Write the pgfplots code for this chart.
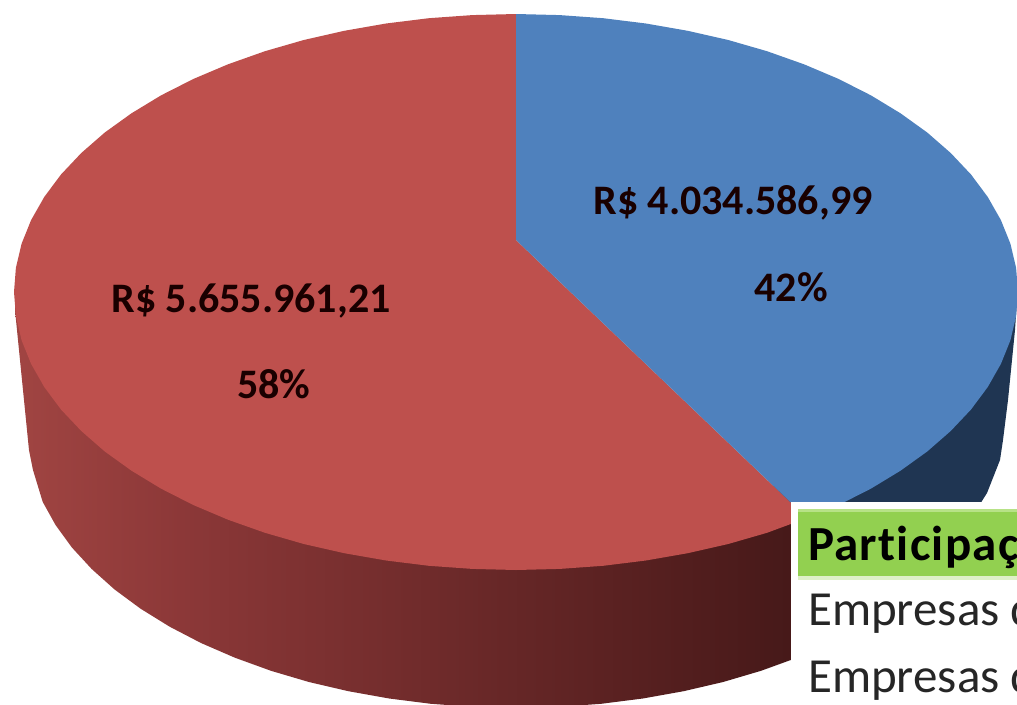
\documentclass[border=0pt]{standalone}
\usepackage{pgfplots}
\pgfplotsset{compat=1.18}
\usepackage{fontspec}
\setmainfont{Carlito}
\newfontfamily\headfont[LetterSpace=2.5,Ligatures=NoCommon]{Carlito}
\definecolor{topred}{RGB}{190,80,77}
\definecolor{topblue}{RGB}{79,129,189}
\definecolor{sideblue}{RGB}{31,53,82}
\definecolor{tgreen}{RGB}{146,208,80}
\definecolor{tgreenA}{RGB}{183,226,135}
\definecolor{tgreenB}{RGB}{222,240,200}
\pgfdeclarehorizontalshading{sideshade}{100bp}{
 rgb(0bp)=(0.63,0.27,0.26);
 rgb(25bp)=(0.63,0.27,0.26);
 rgb(35bp)=(0.55,0.22,0.22);
 rgb(50bp)=(0.44,0.17,0.17);
 rgb(65bp)=(0.33,0.12,0.12);
 rgb(72bp)=(0.28,0.10,0.10);
 rgb(100bp)=(0.28,0.10,0.10)}
\begin{document}
\begin{tikzpicture}
\useasboundingbox (0,0) rectangle (1017pt,704pt);
\begin{axis}[
  at={(0,0)}, anchor=south west,
  scale only axis, width=1017pt, height=704pt,
  xmin=0, xmax=1017, ymin=0, ymax=704, y dir=reverse,
  hide axis, clip=true]
% side of the blue slice
\addplot[fill=sideblue, draw=none] coordinates {
 (1017,300)(1015,330)(1012,360)(1008,400)(1003,440)(1000,460)(987,493)(970,520)
 (900,600)(800,660)(800,500)} -- cycle;
% side of the red slice
\addplot[shading=sideshade, draw=none] coordinates {
 (15,300)(15,310)(20,360)(25,410)(29,450)(33,470)(42.7,501.9)(55.6,525.1)(71.9,547.5)(91.7,569)
 (114.6,589.5)(140.6,608.7)(169.5,626.6)(201,643)(234.9,657.7)(271,670.8)(308.9,682)
 (348.4,691.2)(389.2,698.5)(430.9,703.8)(473.3,706.9)(516,708)(558.7,706.9)(601.1,703.8)
 (642.8,698.5)(683.6,691.2)(723.1,682)(761,670.8)(797.1,657.7)(831,643)(831,500)} -- cycle;
% top of the red slice (58 %)
\addplot[fill=topred, draw=none] coordinates {
 (516,240)(807,518)(767,532.8)(728.2,544)(687.7,553.2)(645.9,560.5)(603.1,565.8)(559.8,568.9)
 (516,570)(472.2,568.9)(428.9,565.8)(386.1,560.5)(344.3,553.2)(303.8,544)(265,532.8)(228,519.7)
 (193.3,505)(161,488.6)(131.5,470.7)(104.8,451.5)(81.3,431)(61,409.5)(44.3,387.1)(31.1,363.9)
 (21.6,340.3)(15.9,316.2)(14,292)(15.9,267.8)(21.6,243.7)(31.1,220.1)(44.3,196.9)(61,174.5)
 (81.3,153)(104.8,132.5)(131.5,113.3)(161,95.4)(193.3,79)(228,64.3)(265,51.2)(303.8,40)
 (344.3,30.8)(386.1,23.5)(428.9,18.2)(472.2,15.1)(516,14)} -- cycle;
% top of the blue slice (42 %)
\addplot[fill=topblue, draw=none] coordinates {
 (516,240)(516,14)(559.8,15.1)(603.1,18.2)(645.9,23.5)(687.7,30.8)(728.2,40)(767,51.2)(804,64.3)
 (838.7,79)(871,95.4)(900.5,113.3)(927.2,132.5)(950.7,153)(971,174.5)(987.7,196.9)(1000.9,220.1)
 (1010.4,243.7)(1016.1,267.8)(1018,292)(1016.1,316.2)(1010.4,340.3)(1000.9,363.9)(987.7,387.1)
 (971,409.5)(950.7,431)(927.2,451.5)(900.5,470.7)(871,488.6)(838.7,505)(807,518)} -- cycle;
% overlapping table
\addplot[fill=white, draw=none] coordinates {(791,502)(1017,502)(1017,704)(791,704)} -- cycle;
\addplot[fill=tgreenA, draw=none] coordinates {(798,509)(1017,509)(1017,513)(798,513)} -- cycle;
\addplot[fill=tgreen, draw=none] coordinates {(798,512)(1017,512)(1017,577)(798,577)} -- cycle;
\addplot[fill=tgreenB, draw=none] coordinates {(798,576)(1017,576)(1017,580)(798,580)} -- cycle;
% labels
\node[font=\fontsize{42}{42}\selectfont\bfseries, text=black!90!red] at (axis cs:733,203) {R\$ 4.034.586,99};
\node[font=\fontsize{42}{42}\selectfont\bfseries, text=black!90!red] at (axis cs:791,287) {42\%};
\node[font=\fontsize{42}{42}\selectfont\bfseries, text=black!90!red] at (axis cs:251,301) {R\$ 5.655.961,21};
\node[font=\fontsize{42}{42}\selectfont\bfseries, text=black!90!red] at (axis cs:274,384) {58\%};
\node[font=\headfont\fontsize{49}{49}\selectfont\bfseries, anchor=base west, inner sep=0pt] at (axis cs:808,560) {Participação};
\node[font=\fontsize{49}{49}\selectfont, anchor=base west, inner sep=0pt, text=black!85] at (axis cs:808,625) {Empresas de};
\node[font=\fontsize{49}{49}\selectfont, anchor=base west, inner sep=0pt, text=black!85] at (axis cs:808,692) {Empresas de};
\end{axis}
\end{tikzpicture}
\end{document}
